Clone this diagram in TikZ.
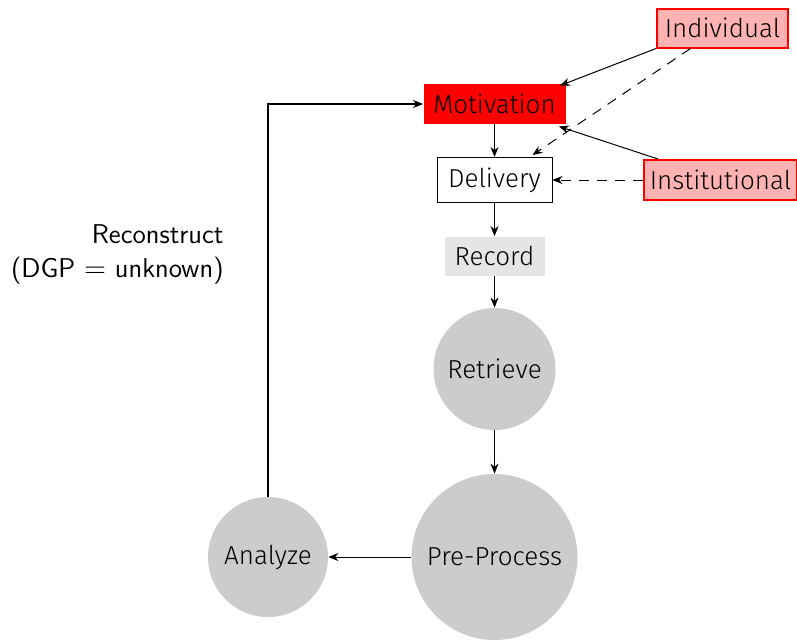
\documentclass[tikz,border=0pt]{standalone}
\usepackage{fontspec}
\newfontfamily\nodefont{Fira Sans Light}
\usetikzlibrary{arrows.meta,calc}
\tikzset{
  px/.style={x=0.5pt,y=-0.5pt},
  base/.style={font=\nodefont\fontsize{13}{16}\selectfont, inner sep=0pt, minimum height=20pt},
  redbox/.style={base, fill=red!30, draw=red, line width=1pt},
  hotbox/.style={base, fill=red},
  plainbox/.style={base, fill=white, draw=black, line width=0.5pt},
  graybox/.style={base, fill=gray!20},
  disc/.style={base, circle, fill=gray!40},
  arr/.style={-{Stealth[length=5pt,width=4pt]}, line width=0.5pt},
  darr/.style={arr, dash pattern=on 5pt off 4pt},
}
\begin{document}
\begin{tikzpicture}[px]
\useasboundingbox (0,0) rectangle (797,639);
\node[redbox, minimum width=65.5pt, minimum height=19.5pt] (ind) at (722.5,28) {Individual};
\node[hotbox, minimum width=71pt] (mot) at (494.5,104) {Motivation};
\node[plainbox, minimum width=57.5pt, minimum height=22.5pt] (del) at (494.5,180) {Delivery};
\node[redbox, minimum width=76.5pt] (inst) at (720.5,180) {Institutional};
\node[graybox, minimum width=50pt, minimum height=19.5pt] (rec) at (494.5,256) {Record};
\node[disc, minimum size=61pt] (ret) at (494.5,369) {Retrieve};
\node[disc, minimum size=83pt] (pre) at (494.5,557) {Pre-Process};
\node[disc, minimum size=60pt] (ana) at (268,557) {Analyze};
\node[font=\sffamily\fontsize{13.6}{17}\selectfont, align=right, anchor=east, inner sep=0pt] (lab) at (224,254) {Reconstruct\\(DGP $=$ unknown)};
\coordinate (corner) at (268,104);

\draw[arr] (ind.south west) -- ([xshift=-3pt,yshift=-1pt]mot.north east);
\draw[darr] ([xshift=-16pt]ind.south) -- ([xshift=-10pt,yshift=1pt]del.north east);
\draw[arr] ([xshift=7.5pt]inst.north west) -- ([xshift=-3.5pt,yshift=-1pt]mot.south east);
\draw[darr] (inst.west) -- (del.east);
\draw[arr] (mot) -- (del);
\draw[arr, line width=0.9pt] (del) -- (rec);
\draw[arr] (rec) -- (ret);
\draw[arr] (ret) -- (pre);
\draw[arr] (pre) -- (ana);
\draw[arr, line width=1pt] (ana.north) -- (corner) -- (mot.west);
\end{tikzpicture}
\end{document}
